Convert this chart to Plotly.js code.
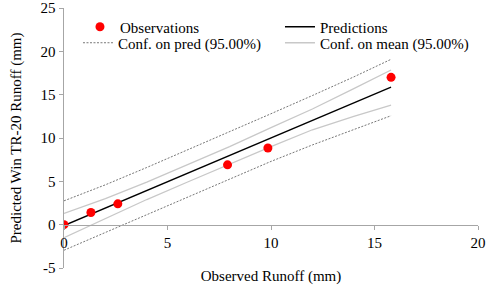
<!DOCTYPE html>
<html>
<head>
<meta charset="utf-8">
<script src="https://cdn.plot.ly/plotly-3.0.1.min.js"></script>
<style>html,body{margin:0;padding:0;background:#fff;}#chart{width:500px;height:289px;}</style>
</head>
<body>
<div id="chart"></div>
<script>
// Observations
const obsX = [0, 1.3, 2.6, 7.9, 9.85, 15.8];
const obsY = [0, 1.4, 2.4, 6.9, 8.85, 17.0];
// Band / prediction abscissae
const bandX = [0, 2, 4, 6, 8, 10, 12, 14, 15.8];
const predY = [-0.1, 1.92, 3.94, 5.96, 7.98, 10.0, 12.02, 14.04, 15.86];
const meanUpper = [1.3, 3.0, 4.9, 6.95, 9.0, 11.2, 13.35, 15.7, 17.85];
const meanLower = [-1.5, 0.7, 2.9, 4.95, 7.0, 9.0, 10.95, 12.5, 13.8];
const predUpper = [2.75, 4.6, 6.6, 8.65, 10.7, 12.8, 14.9, 17.05, 19.08];
const predLower = [-2.95, -0.9, 1.2, 3.25, 5.3, 7.3, 9.2, 11.0, 12.57];
const xTicks = [0, 5, 10, 15, 20];
const yTicks = [-5, 0, 5, 10, 15, 20, 25];

const font = {family: 'Liberation Serif', size: 15, color: '#000'};
const dashC = '#777777', meanC = '#c8c8c8', axC = '#a6a6a6';

const traces = [
  {x: bandX, y: predY, mode: 'lines', name: 'Predictions',
   line: {color: '#000', width: 1.3}, legend: 'legend2'},
  {x: bandX, y: predUpper, mode: 'lines', name: 'Conf. on pred (95.00%)',
   line: {color: dashC, width: 1, dash: '2px,1.5px'}, legend: 'legend3'},
  {x: bandX, y: meanUpper, mode: 'lines', name: 'Conf. on mean (95.00%)',
   line: {color: meanC, width: 1.3}, legend: 'legend4'},
  {x: bandX, y: predLower, mode: 'lines', name: 'Conf. on pred (95.00%)', showlegend: false,
   line: {color: dashC, width: 1, dash: '2px,1.5px'}, legend: 'legend3'},
  {x: bandX, y: meanLower, mode: 'lines', name: 'Conf. on mean (95.00%)', showlegend: false,
   line: {color: meanC, width: 1.3}, legend: 'legend4'},
  {x: obsX, y: obsY, mode: 'markers', name: 'Observations',
   marker: {color: '#ff0000', size: 9}, legend: 'legend'}
];

function leg(x, y) {
  return {orientation: 'v', x: x, y: y, xanchor: 'left', yanchor: 'middle',
          bgcolor: 'rgba(0,0,0,0)', font: font, itemwidth: 30};
}

const layout = {
  width: 500, height: 289,
  margin: {l: 64, r: 22, t: 8, b: 21},
  paper_bgcolor: '#fff', plot_bgcolor: '#fff',
  font: font,
  showlegend: true,
  legend: leg(0.0386, 0.9269),
  legend2: leg(0.5217, 0.9269),
  legend3: leg(0.0338, 0.8654),
  legend4: leg(0.5217, 0.8654),
  xaxis: {range: [0, 20], tickvals: xTicks, ticktext: xTicks.map(String),
          anchor: 'free', position: 5/30, showline: true, linecolor: axC, linewidth: 1.5,
          ticks: 'outside', ticklen: 4, tickcolor: axC, showgrid: false, zeroline: false,
          tickfont: font,
          title: {text: 'Observed Runoff (mm)', font: font, standoff: 20}},
  yaxis: {range: [-5, 25], tickvals: yTicks, ticktext: yTicks.map(String),
          showline: true, linecolor: axC, linewidth: 1.5,
          ticks: 'outside', ticklen: 4, tickcolor: axC, showgrid: false, zeroline: false,
          tickfont: font,
          title: {text: 'Predicted Win TR-20 Runoff (mm)', font: font, standoff: 15}}
};

Plotly.newPlot('chart', traces, layout, {displayModeBar: false, staticPlot: true});
</script>
</body>
</html>
